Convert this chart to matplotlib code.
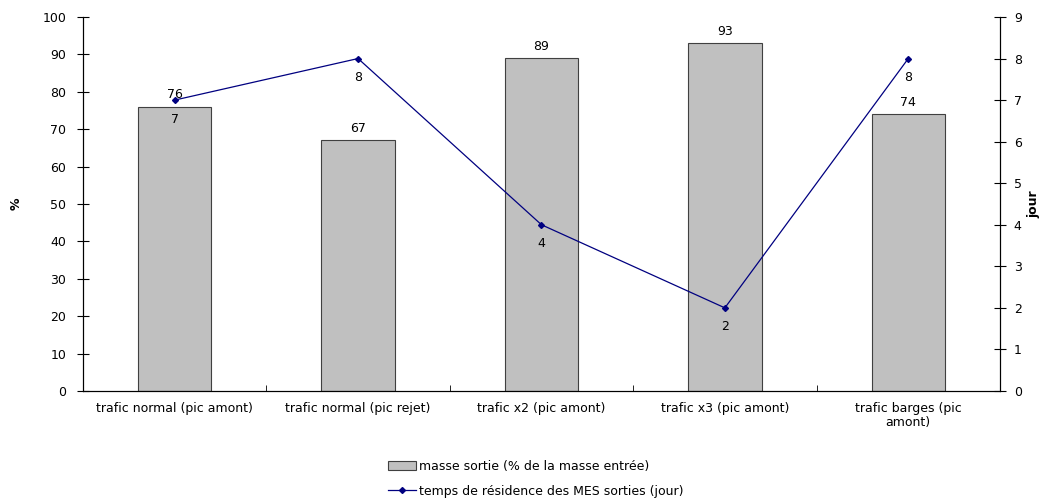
import matplotlib.pyplot as plt
import numpy as np

categories = ["trafic normal (pic amont)", "trafic normal (pic rejet)",
              "trafic x2 (pic amont)", "trafic x3 (pic amont)",
              "trafic barges (pic\namont)"]
masse = [76, 67, 89, 93, 74]
temps = [7, 8, 4, 2, 8]

plt.rcParams['font.family'] = ['DejaVu Sans']
plt.rcParams['font.size'] = 9

fig = plt.figure(figsize=(10.41, 4.98), dpi=100)
ax = fig.add_axes([0.0797, 0.2149, 0.8809, 0.7510])
x = np.arange(len(categories))

bars = ax.bar(x, masse, width=0.4, color="#C0C0C0", edgecolor="#404040",
              linewidth=0.8, label="masse sortie (% de la masse entrée)")
for xi, v in zip(x, masse):
    ax.text(xi, v + 1.5, str(v), ha="center", va="bottom")

ax.set_xlim(-0.5, len(categories) - 0.5)
ax.set_ylim(0, 100)
ax.set_yticks(range(0, 101, 10))
ax.set_xticks(x)
ax.set_xticklabels(categories, linespacing=1.05)
ax.set_xticks(np.arange(-0.5, len(categories), 1), minor=True)
ax.tick_params(axis="x", which="major", length=0, pad=8)
ax.tick_params(axis="x", which="minor", length=4, direction="in")
ax.tick_params(axis="y", direction="inout", length=8, pad=8)
ax.spines["top"].set_visible(False)
ax.set_ylabel("%", fontweight="bold", labelpad=14)

ax2 = ax.twinx()
line, = ax2.plot(x, temps, color="#000080", marker="D", markersize=3,
                 linewidth=0.9, label="temps de résidence des MES sorties (jour)")
for xi, v in zip(x, temps):
    ax2.text(xi, v - 0.3, str(v), ha="center", va="top")
ax2.set_ylim(0, 9)
ax2.set_yticks(range(0, 10))
ax2.tick_params(axis="y", direction="inout", length=8, pad=6)
ax2.spines["top"].set_visible(False)
ax2.set_ylabel("jour", fontweight="bold", labelpad=4)

fig.legend([bars, line], [bars.get_label(), line.get_label()],
           loc="lower center", bbox_to_anchor=(0.515, -0.022), frameon=False,
           handlelength=2.2, handletextpad=0.3, labelspacing=0.95)

fig.savefig("out.png", dpi=100)
